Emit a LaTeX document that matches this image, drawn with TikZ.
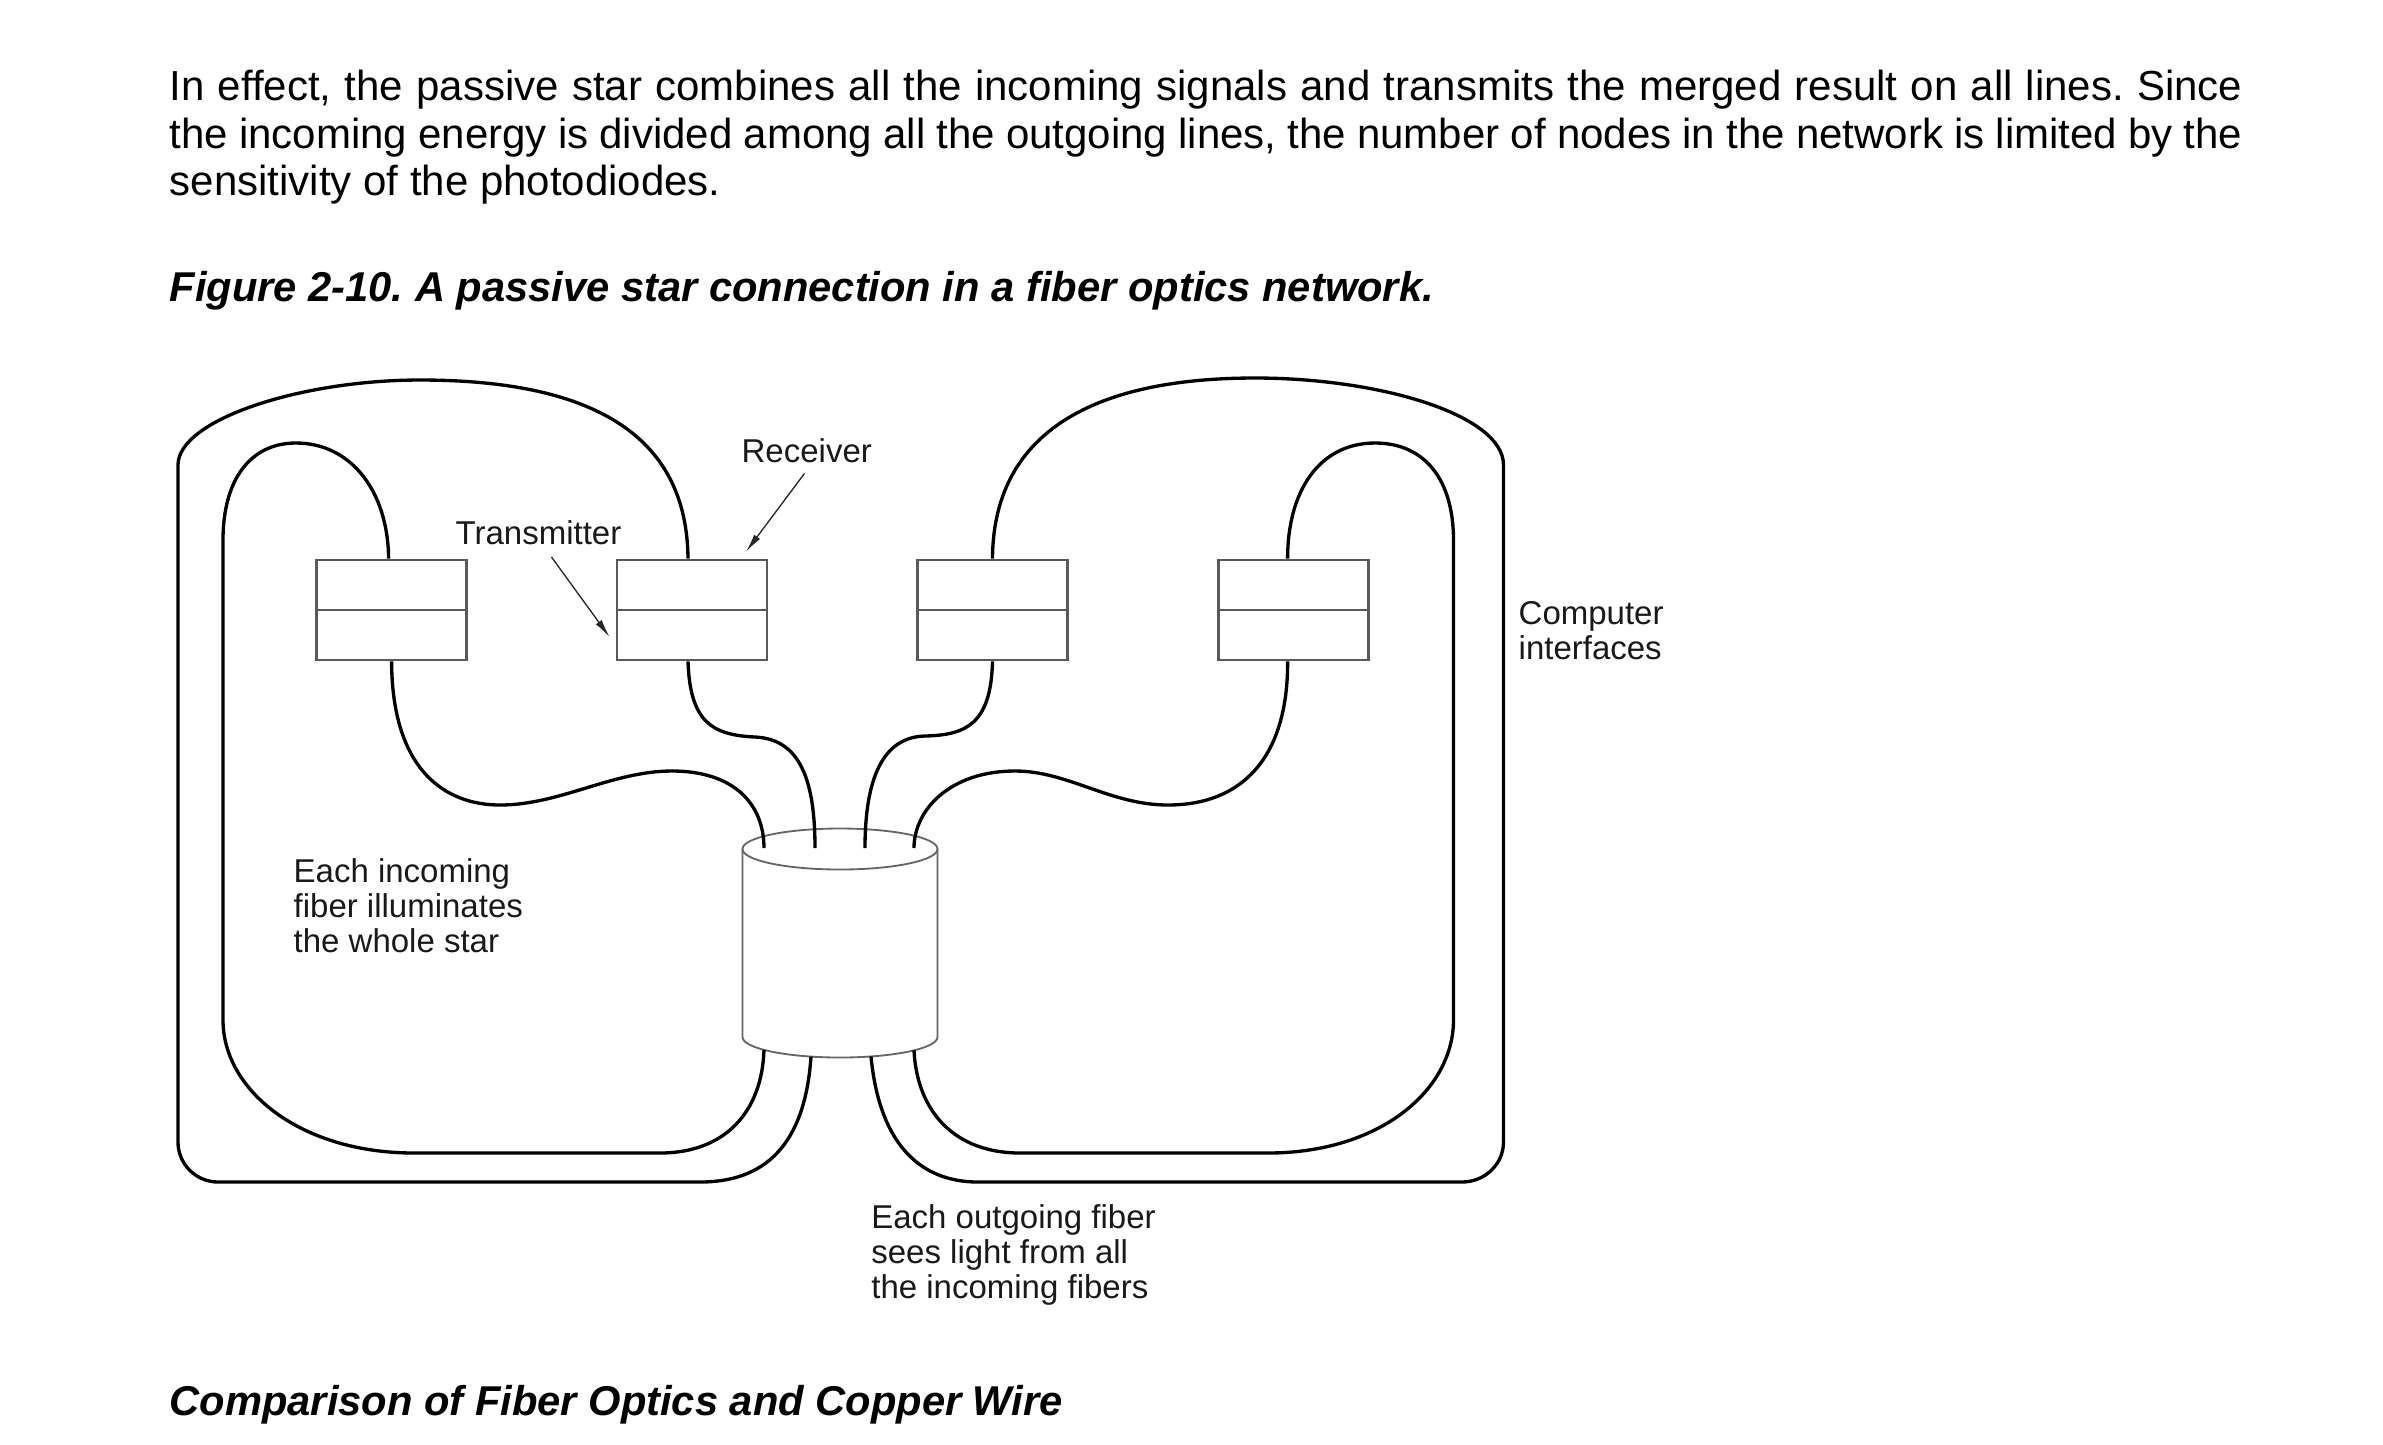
\documentclass[tikz,border=0pt]{standalone}
\usepackage{fontspec}
\setmainfont{Liberation Sans}
\usetikzlibrary{arrows.meta}
\frenchspacing
\begin{document}
\begin{tikzpicture}[x=0.3pt,y=-0.3pt,
  fiber/.style={line width=1pt, black},
  ifbox/.style={draw=black!65, line width=0.85pt, minimum width=45pt, minimum height=30pt, inner sep=0pt},
  boxline/.style={draw=black!65, line width=0.85pt},
  starline/.style={draw=black!60, line width=0.55pt},
  lbl/.style={font=\fontsize{9.9}{10.65}\selectfont, text=black!90, inner sep=0pt, align=left},
  pointer/.style={line width=0.4pt, black!85, -{Latex[length=5.5pt,width=2.2pt]}},
  bodytext/.style={font=\fontsize{12.6}{14.25}\selectfont, inner sep=0pt},
  headtext/.style={font=\fontsize{12.5}{14.25}\selectfont\bfseries\itshape, inner sep=0pt}
]
\useasboundingbox (0,0) rectangle (2383,1444);

% ---- surrounding text ----
\node[bodytext, anchor=north west, text width=621.9pt, align=justify] (para) at (169,69.4)
 {\hyphenpenalty=10000 \exhyphenpenalty=10000 \tolerance=9999
 In effect, the passive star combines all the incoming signals and transmits the merged result on all lines. Since\linebreak
 the incoming energy is divided among all the outgoing lines, the number of nodes in the network is limited by the\linebreak
 sensitivity of the photodiodes.};
\node[headtext, anchor=base west] (cap) at (169,301.7) {Figure 2-10. A passive star connection in a fiber optics network.};
\node[headtext, anchor=base west] (head) at (169,1415.7) {Comparison of Fiber Optics and Copper Wire};

% ---- computer interfaces ----
\node[ifbox] (b1) at (391.6,610) {};
\node[ifbox] (b2) at (692,610) {};
\node[ifbox] (b3) at (992.5,610) {};
\node[ifbox] (b4) at (1293.3,610) {};
\foreach \b in {b1,b2,b3,b4} \draw[boxline] (\b.west) -- (\b.east);

% ---- passive star ----
\coordinate (st) at (840,849);
\draw[starline, fill=white] (742.5,849) -- (742.5,1037)
  arc[start angle=180, end angle=360, x radius=29.25pt, y radius=6.15pt] -- (937.5,849);
\draw[starline] (st) ellipse [x radius=29.25pt, y radius=6.15pt];
\coordinate (in1) at (764,848);
\coordinate (in2) at (815,848);
\coordinate (in3) at (865,848);
\coordinate (in4) at (914,848);
\coordinate (out1) at (764,1049.8);
\coordinate (out2) at (811,1056.6);
\coordinate (out3) at (871,1056.4);
\coordinate (out4) at (914,1050.3);

% ---- incoming fibers (transmitters to star) ----
\draw[fiber] (b1.south) .. controls (392,770) and (445,805) .. (500,805)
  .. controls (560,805) and (612,771) .. (672,771)
  .. controls (735,771) and (764,805) .. (in1);
\draw[fiber] ([xshift=-1.2pt]b2.south) .. controls (690,722) and (712,735) .. (755,737)
  .. controls (800,739) and (815,780) .. (in2);
\draw[fiber] (b3.south) .. controls (991,725) and (965,735) .. (925,736)
  .. controls (882,737) and (865,780) .. (in3);
\draw[fiber] ([xshift=-1.7pt]b4.south) .. controls (1288,760) and (1240,805) .. (1168,805)
  .. controls (1110,805) and (1068,771) .. (1015,771)
  .. controls (950,771) and (914,810) .. (in4);

% ---- outgoing fibers (star to receivers) ----
\draw[fiber] (out1) .. controls (762,1112) and (725,1153) .. (660,1153) -- (414,1153)
  .. controls (300,1153) and (223,1090) .. (223,1020) -- (223,540)
  .. controls (223,480) and (250,443) .. (296,443)
  .. controls (350,443) and (388,490) .. ([xshift=-0.9pt]b1.north);
\draw[fiber] (out2) .. controls (805,1145) and (765,1182) .. (700,1182) -- (218,1182)
  .. controls (196,1182) and (178,1164) .. (178,1142) -- (178,465)
  .. controls (178,420) and (300,380) .. (420,380)
  .. controls (600,380) and (687,440) .. ([xshift=-1.2pt]b2.north);
\draw[fiber] (out3) .. controls (880,1150) and (925,1182) .. (978,1182) -- (1462,1182)
  .. controls (1485,1182) and (1503.5,1164) .. (1503.5,1142) -- (1503.5,465)
  .. controls (1503.5,415) and (1380,378) .. (1255,378)
  .. controls (1075,378) and (993,445) .. (b3.north);
\draw[fiber] (out4) .. controls (917,1112) and (955,1153) .. (1020,1153) -- (1268,1153)
  .. controls (1380,1153) and (1453.5,1090) .. (1453.5,1020) -- (1453.5,540)
  .. controls (1453.5,480) and (1425,443) .. (1375,443)
  .. controls (1320,443) and (1287.5,490) .. ([xshift=-1.7pt]b4.north);

% ---- labels ----
\node[lbl, anchor=base west] (tx) at (455,544) {Transmitter};
\node[lbl, anchor=base west] (rx) at (741,462) {Receiver};
\node[lbl, anchor=north west] (ci) at (1518,600.4) {Computer\\interfaces};
\node[lbl, anchor=north west] (inc) at (293,857.4) {Each incoming\\fiber illuminates\\the whole star};
\node[lbl, anchor=north west] (outg) at (870.7,1203.4) {Each outgoing fiber\\sees light from all\\the incoming fibers};

\draw[pointer] ([shift={(3.9pt,-3.6pt)}]tx.south) -- ([shift={(-1.8pt,-8.1pt)}]b2.west);
\draw[pointer] ([shift={(-0.7pt,-3.15pt)}]rx.south) -- ([shift={(-6.7pt,2.1pt)}]b2.north east);
\end{tikzpicture}
\end{document}
